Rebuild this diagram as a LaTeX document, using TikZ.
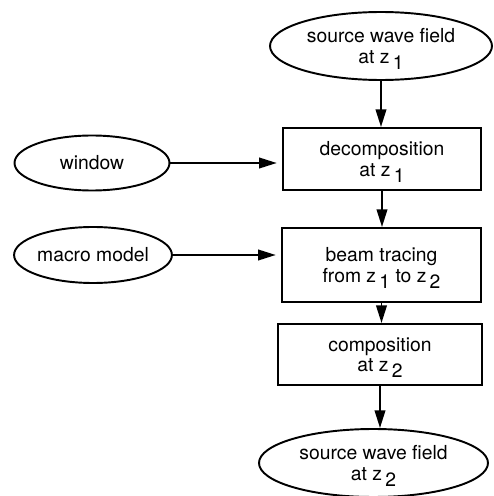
\documentclass[tikz,border=0pt]{standalone}
\usepackage{fontspec}
\setmainfont{TeX Gyre Heros}
\usetikzlibrary{shapes.geometric,arrows.meta}

% subscripted z as set in the chart
\newcommand{\zat}[1]{z\,\raisebox{-0.6ex}[0pt][0pt]{#1}}

\tikzset{
  field/.style={draw,ellipse,line width=1.1pt,inner sep=0pt,align=center},
  stage/.style={draw,rectangle,line width=1.1pt,inner sep=0pt,align=center},
  flow/.style={line width=1.1pt,-{Triangle[length=10pt,width=6pt]}}
}

\begin{document}
\begin{tikzpicture}[font=\fontsize{11}{11.5}\selectfont]
  \useasboundingbox (0,0) rectangle (9.86,9.92);
  % main column
  \node[field,minimum width=4.44cm,minimum height=1.36cm] (srcA) at (7.62,9.00) {source wave field\\at \zat{1}};
  \node[stage,minimum width=3.96cm,minimum height=1.24cm] (decomp) at (7.64,6.74) {decomposition\\at \zat{1}};
  \node[stage,minimum width=3.98cm,minimum height=1.48cm] (beam) at (7.63,4.62) {beam tracing\\from \zat{1} to \zat{2}};
  \node[stage,minimum width=4.08cm,minimum height=1.22cm] (comp) at (7.60,2.83) {composition\\at \zat{2}};
  \node[field,minimum width=4.58cm,minimum height=1.36cm] (srcB) at (7.47,0.66) {source wave field\\at \zat{2}};
  % side inputs
  \node[field,minimum width=3.10cm,minimum height=1.10cm] (window) at (1.84,6.66) {window};
  \node[field,minimum width=3.14cm,minimum height=1.12cm] (macro) at (1.86,4.82) {macro model};

  \draw[flow] (srcA.south) -- (srcA.south |- decomp.north);
  \draw[flow] (decomp.south) -- (decomp.south |- beam.north);
  \draw[flow] (beam.south) -- (beam.south |- comp.north);
  \draw[flow] (comp.south) -- (comp.south |- srcB.north);
  \draw[flow,shorten >=3pt] (window.east) -- (window.east -| decomp.west);
  \draw[flow,shorten >=3pt] (macro.east) -- (macro.east -| beam.west);
\end{tikzpicture}
\end{document}
